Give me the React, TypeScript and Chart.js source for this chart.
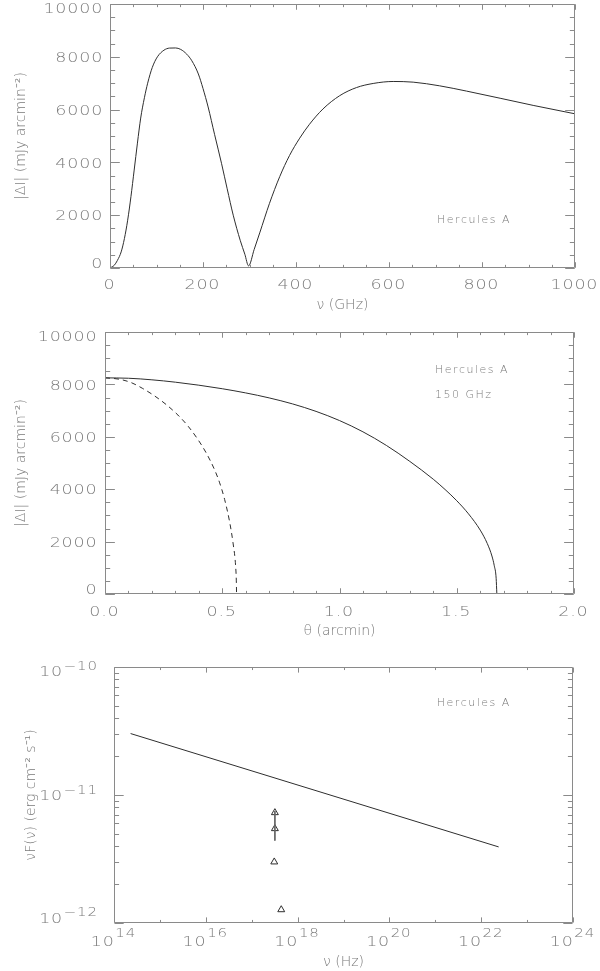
import React, { useEffect, useRef } from 'react';
import { Chart, registerables } from 'chart.js';
Chart.register(...registerables);

// ---------- Panel 1: |ΔI| vs frequency ----------
const nuGHz = [0, 9, 16, 24, 31, 38, 45, 52, 59, 66, 74, 81, 91, 102, 116, 128, 141, 152, 165, 176, 190, 200, 211, 225, 240, 252, 265, 280, 290, 298, 310, 322, 343, 365, 386, 408, 429, 458, 494, 530, 566, 609, 652, 709, 767, 839, 910, 1000];
const dIspectrum = [0, 100, 290, 610, 1115, 1810, 2700, 3710, 4730, 5680, 6450, 7000, 7600, 8000, 8250, 8330, 8335, 8280, 8100, 7850, 7350, 6800, 6100, 5050, 3950, 3000, 2000, 1050, 520, 80, 700, 1330, 2449, 3461, 4259, 4919, 5444, 6024, 6528, 6834, 6990, 7065, 7040, 6900, 6700, 6430, 6160, 5840];
const p1XTicks = ['0', '200', '400', '600', '800', '1000'];
const p1YTicks = ['0', '2000', '4000', '6000', '8000', '10000'];

// ---------- Panel 2: |ΔI| vs theta ----------
const thetaSolid = [0, 0.1, 0.2, 0.3, 0.4, 0.5, 0.6, 0.7, 0.8, 0.9, 1.0, 1.1, 1.2, 1.3, 1.4, 1.45, 1.5, 1.55, 1.6, 1.63, 1.65, 1.66, 1.668, 1.671];
const dISolid = [8250, 8235, 8175, 8085, 7970, 7835, 7675, 7485, 7255, 6970, 6620, 6190, 5670, 5060, 4380, 3990, 3560, 3060, 2440, 1930, 1450, 1080, 600, 0];
const thetaDashed = [0, 0.061, 0.111, 0.161, 0.211, 0.261, 0.311, 0.353, 0.396, 0.432, 0.467, 0.489, 0.510, 0.531, 0.546, 0.557, 0.560, 0.561];
const dIDashed = [8250, 8198, 8071, 7843, 7563, 7230, 6830, 6420, 5900, 5378, 4748, 4242, 3612, 2772, 1947, 1067, 500, 0];
const p2XTicks = ['0.0', '0.5', '1.0', '1.5', '2.0'];
const p2YTicks = ['0', '2000', '4000', '6000', '8000', '10000'];

// ---------- Panel 3: nuF(nu) ----------
const plawNu = [2.3e14, 2.4e22];
const plawNuFnu = [3.02e-11, 3.93e-12];
const obsNu = [3.2e17, 3.2e17, 3.1e17, 4.4e17];
const obsNuFnu = [7.28e-12, 5.46e-12, 3.0e-12, 1.27e-12];
const barNu = [3.2e17, 3.2e17];
const barNuFnu = [7.5e-12, 4.4e-12];
const p3XExps = ['14', '16', '18', '20', '22', '24'];
const p3XMinorExps = ['15', '17', '19', '21', '23'];
const p3YExps = ['−12', '−11', '−10'];

const FAM = '"DejaVu Sans", sans-serif';
const TXT = '#7a7a7a';
const AX = '#8a8a8a';
const LINE = '#2e2e2e';
const font = { family: FAM, size: 14, weight: '200' as any, lineHeight: 1.2 };

const expVal = (s: string) => Math.pow(10, Number(s.replace('−', '-')));

function range(a: number, b: number, step: number) {
  const out: number[] = [];
  for (let v = a; v <= b + step * 1e-6; v += step) out.push(+v.toFixed(6));
  return out;
}

type Lbl = { v: number; text: string; exp?: string };
type Decor = {
  xMajor: number[]; xMinor: number[]; yMajor: number[]; yMinor: number[];
  xLabels: Lbl[]; yLabels: Lbl[]; xDy: number; yGap: number;
  notes: { text: string; x: number; y: number }[];
};

// draws text glyph by glyph, horizontally stretched by sx, with extra spacing sp
function drawText(ctx: CanvasRenderingContext2D, text: string, x: number, y: number, align: string, sx: number, sp: number, measureOnly = false) {
  const chars = Array.from(text);
  const ws = chars.map(ch => ctx.measureText(ch).width * sx);
  const total = ws.reduce((a, b) => a + b, 0) + sp * (chars.length - 1);
  if (measureOnly) return total;
  let cx = align === 'left' ? x : align === 'right' ? x - total : x - total / 2;
  ctx.textAlign = 'left';
  chars.forEach((ch, i) => {
    ctx.save();
    ctx.translate(cx, y);
    ctx.scale(sx, 1);
    ctx.fillText(ch, 0, 0);
    ctx.restore();
    cx += ws[i] + sp;
  });
  return total;
}

const SX = 1.25, SP = 0.8;

function decorPlugin(o: Decor) {
  return {
    id: 'decor',
    afterDraw(chart: any) {
      const { ctx, chartArea: a, scales } = chart;
      const xs = scales.x, ys = scales.y;
      const W = a.right - a.left, H = a.bottom - a.top;
      ctx.save();
      ctx.strokeStyle = AX;
      ctx.lineWidth = 1;
      const L = Math.round(a.left) + 0.5, R = Math.round(a.right) - 0.5;
      const T = Math.round(a.top) + 0.5, B = Math.round(a.bottom) - 0.5;
      ctx.beginPath();
      ctx.rect(L, T, R - L, B - T);
      const xt = (vals: number[], len: number) => {
        vals.forEach(v => {
          const p = Math.round(xs.getPixelForValue(v)) + 0.5;
          if (p < L - 1 || p > R + 1) return;
          ctx.moveTo(p, B); ctx.lineTo(p, B - len);
          ctx.moveTo(p, T); ctx.lineTo(p, T + len);
        });
      };
      const yt = (vals: number[], len: number) => {
        vals.forEach(v => {
          const p = Math.round(ys.getPixelForValue(v)) + 0.5;
          if (p < T - 1 || p > B + 1) return;
          ctx.moveTo(L, p); ctx.lineTo(L + len, p);
          ctx.moveTo(R, p); ctx.lineTo(R - len, p);
        });
      };
      xt(o.xMajor, 0.02 * H);
      xt(o.xMinor, 0.01 * H);
      yt(o.yMajor, 0.02 * W);
      yt(o.yMinor, 0.01 * W);
      ctx.stroke();

      ctx.fillStyle = TXT;
      ctx.textBaseline = 'middle';
      ctx.letterSpacing = '0px';
      const bf = `200 14px ${FAM}`, ef = `200 12.5px ${FAM}`;

      // x tick labels
      o.xLabels.forEach(l => {
        const px = xs.getPixelForValue(l.v);
        const by = a.bottom + o.xDy;
        if (l.exp) {
          ctx.font = bf; const bw = drawText(ctx, l.text, 0, 0, 'left', SX, SP, true);
          ctx.font = ef; const ew = drawText(ctx, l.exp, 0, 0, 'left', 1.2, SP, true);
          const x0 = px - (bw + 1.5 + ew) / 2 - 1;
          ctx.font = bf; drawText(ctx, l.text, x0, by, 'left', SX, SP);
          ctx.font = ef; drawText(ctx, l.exp, x0 + bw + 1.5, by - 8, 'left', 1.2, SP);
        } else {
          ctx.font = bf; drawText(ctx, l.text, px - 1, by, 'center', SX, SP);
        }
      });
      // y tick labels
      o.yLabels.forEach(l => {
        let py = ys.getPixelForValue(l.v) + 1.5;
        py = Math.min(Math.max(py, a.top + 5.5), a.bottom - 4);
        const xr = a.left - o.yGap;
        if (l.exp) {
          ctx.font = ef; const ew = drawText(ctx, l.exp, 0, 0, 'left', 1.2, SP, true);
          ctx.font = bf; const bw = drawText(ctx, l.text, 0, 0, 'left', SX, SP, true);
          ctx.font = bf; drawText(ctx, l.text, xr - ew - 1.5 - bw, py, 'left', SX, SP);
          ctx.font = ef; drawText(ctx, l.exp, xr - ew, py - 6, 'left', 1.2, SP);
        } else {
          ctx.font = bf; drawText(ctx, l.text, xr, py, 'right', SX, SP);
        }
      });

      // annotations
      ctx.font = `200 10px ${FAM}`;
      o.notes.forEach(n => {
        drawText(ctx, n.text, xs.getPixelForValue(n.x), ys.getPixelForValue(n.y), 'left', 1.1, 1.5);
      });
      ctx.restore();
    },
  };
}

const baseOpts = () => ({
  animation: false as const,
  responsive: false,
  events: [] as any[],
  plugins: { legend: { display: false }, tooltip: { enabled: false } },
});

const axisBase = (extra: any) => ({
  grid: { display: false, drawTicks: false },
  border: { display: false },
  ticks: { display: false },
  ...extra,
});

export default function App() {
  const r1 = useRef<HTMLCanvasElement>(null);
  const r2 = useRef<HTMLCanvasElement>(null);
  const r3 = useRef<HTMLCanvasElement>(null);

  useEffect(() => {
    const charts: Chart[] = [];

    // Panel 1
    charts.push(new Chart(r1.current!, {
      type: 'line',
      data: {
        datasets: [{
          data: nuGHz.map((x, i) => ({ x, y: dIspectrum[i] })),
          borderColor: LINE, borderWidth: 1, pointRadius: 0,
          cubicInterpolationMode: 'monotone',
        }],
      },
      options: {
        ...baseOpts(),
        layout: { padding: { top: 4, right: 25, left: 0, bottom: 0 } },
        scales: {
          x: axisBase({
            type: 'linear', min: 0, max: 1000,
            afterFit: (s: any) => { s.height = 52; },
            title: { display: true, text: 'ν (GHz)', color: TXT, font, padding: { top: 0, bottom: 6.6 } },
          }),
          y: axisBase({
            type: 'linear', min: 0, max: 10000,
            afterFit: (s: any) => { s.width = 110; },
            title: { display: true, text: '|ΔI| (mJy arcmin⁻²)', color: TXT, font, padding: { top: 12.6, bottom: 0 } },
          }),
        },
      } as any,
      plugins: [decorPlugin({
        xMajor: p1XTicks.map(Number), xMinor: range(0, 1000, 50),
        yMajor: p1YTicks.map(Number), yMinor: range(0, 10000, 500),
        xLabels: p1XTicks.map(t => ({ v: Number(t), text: t })),
        yLabels: p1YTicks.map(t => ({ v: Number(t), text: t })),
        xDy: 17.3, yGap: 7.7,
        notes: [{ text: 'Hercules A', x: 703, y: 1813 }],
      })],
    }));

    // Panel 2
    charts.push(new Chart(r2.current!, {
      type: 'line',
      data: {
        datasets: [
          {
            data: thetaSolid.map((x, i) => ({ x, y: dISolid[i] })),
            borderColor: LINE, borderWidth: 1, pointRadius: 0, cubicInterpolationMode: 'monotone',
          },
          {
            data: thetaDashed.map((x, i) => ({ x, y: dIDashed[i] })),
            borderColor: LINE, borderWidth: 1, pointRadius: 0, borderDash: [5, 4], cubicInterpolationMode: 'monotone',
          },
        ],
      },
      options: {
        ...baseOpts(),
        layout: { padding: { top: 12, right: 26, left: 0, bottom: 0 } },
        scales: {
          x: axisBase({
            type: 'linear', min: 0, max: 2,
            afterFit: (s: any) => { s.height = 46; },
            title: { display: true, text: 'θ (arcmin)', color: TXT, font, padding: { top: 0, bottom: 0 } },
          }),
          y: axisBase({
            type: 'linear', min: 0, max: 10000,
            afterFit: (s: any) => { s.width = 105; },
            title: { display: true, text: '|ΔI| (mJy arcmin⁻²)', color: TXT, font, padding: { top: 12.6, bottom: 0 } },
          }),
        },
      } as any,
      plugins: [decorPlugin({
        xMajor: p2XTicks.map(Number), xMinor: range(0, 2, 0.1),
        yMajor: p2YTicks.map(Number), yMinor: range(0, 10000, 500),
        xLabels: p2XTicks.map(t => ({ v: Number(t), text: t })),
        yLabels: p2YTicks.map(t => ({ v: Number(t), text: t })),
        xDy: 18, yGap: 8.4,
        notes: [
          { text: 'Hercules A', x: 1.407, y: 8541 },
          { text: '150 GHz', x: 1.407, y: 7589 },
        ],
      })],
    }));

    // Panel 3
    const yMinor3: number[] = [];
    [-12, -11].forEach(d => { for (let k = 2; k <= 9; k++) yMinor3.push(k * Math.pow(10, d)); });
    charts.push(new Chart(r3.current!, {
      type: 'line',
      data: {
        datasets: [
          {
            data: plawNu.map((x, i) => ({ x, y: plawNuFnu[i] })),
            borderColor: LINE, borderWidth: 1, pointRadius: 0,
          },
          {
            data: barNu.map((x, i) => ({ x, y: barNuFnu[i] })),
            borderColor: '#666', borderWidth: 1, pointRadius: 0,
          },
          {
            data: obsNu.map((x, i) => ({ x, y: obsNuFnu[i] })),
            showLine: false, pointStyle: 'triangle', pointRadius: 4,
            borderColor: LINE, borderWidth: 1, backgroundColor: 'rgba(0,0,0,0)',
          },
        ],
      },
      options: {
        ...baseOpts(),
        layout: { padding: { top: 27, right: 27, left: 0, bottom: 0 } },
        scales: {
          x: axisBase({
            type: 'logarithmic', min: 1e14, max: 1e24,
            afterFit: (s: any) => { s.height = 48; },
            title: { display: true, text: 'ν (Hz)', color: TXT, font, padding: { top: 0, bottom: 0.6 } },
          }),
          y: axisBase({
            type: 'logarithmic', min: 1e-12, max: 1e-10,
            afterFit: (s: any) => { s.width = 114; },
            title: { display: true, text: 'νF(ν) (erg cm⁻² s⁻¹)', color: TXT, font, padding: { top: 22.6, bottom: 0 } },
          }),
        },
      } as any,
      plugins: [decorPlugin({
        xMajor: p3XExps.map(expVal), xMinor: p3XMinorExps.map(expVal),
        yMajor: p3YExps.map(expVal), yMinor: yMinor3,
        xLabels: p3XExps.map(e => ({ v: expVal(e), text: '10', exp: e })),
        yLabels: p3YExps.map(e => ({ v: expVal(e), text: '10', exp: e })),
        xDy: 19, yGap: 17,
        notes: [{ text: 'Hercules A', x: Math.pow(10, 21.03), y: 5.24e-11 }],
      })],
    }));

    return () => { charts.forEach(c => c.destroy()); };
  }, []);

  return (
    <div style={{ position: 'absolute', left: 0, top: 0, width: 600, height: 971, background: '#fff' }}>
      <canvas ref={r1} width={600} height={320} style={{ position: 'absolute', left: 0, top: 0 }} />
      <canvas ref={r2} width={600} height={320} style={{ position: 'absolute', left: 0, top: 320 }} />
      <canvas ref={r3} width={600} height={331} style={{ position: 'absolute', left: 0, top: 640 }} />
    </div>
  );
}
